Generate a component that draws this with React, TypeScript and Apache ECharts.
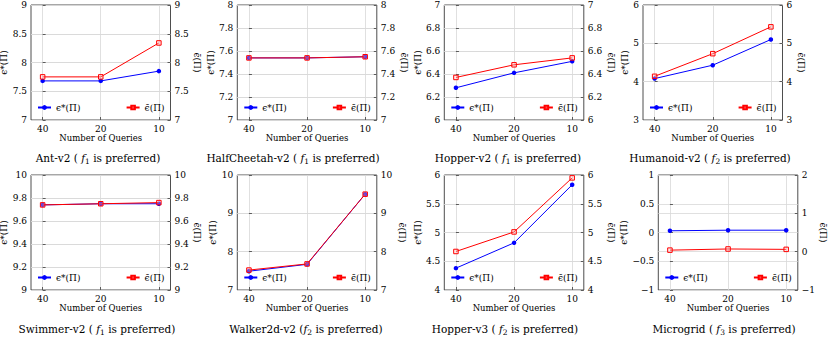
import React, { useEffect, useRef } from "react";
import * as echarts from "echarts";

// ---------- data ----------
const queries = ["40", "20", "10"];
const queryPos = [0, 1, 2];

const BEST = "ϵ*(Π)";
const AVG = "ϵ̄(Π)";

const antBest = [7.68, 7.68, 7.85];
const antAvg = [7.75, 7.75, 8.34];
const halfCheetahBest = [7.54, 7.54, 7.55];
const halfCheetahAvg = [7.54, 7.54, 7.55];
const hopperV2Best = [6.28, 6.41, 6.51];
const hopperV2Avg = [6.37, 6.48, 6.54];
const humanoidBest = [4.08, 4.43, 5.1];
const humanoidAvg = [4.14, 4.73, 5.43];
const swimmerBest = [9.74, 9.75, 9.75];
const swimmerAvg = [9.74, 9.75, 9.76];
const walkerBest = [7.49, 7.67, 9.5];
const walkerAvg = [7.52, 7.68, 9.5];
const hopperV3Best = [4.38, 4.82, 5.83];
const hopperV3Avg = [4.67, 5.01, 5.95];
const microgridBest = [0.03, 0.04, 0.04];
const microgridAvg = [0.04, 0.07, 0.06];

const envNames = [
  "Ant-v2 (",
  "HalfCheetah-v2 (",
  "Hopper-v2 (",
  "Humanoid-v2 (",
  "Swimmer-v2 (",
  "Walker2d-v2 (",
  "Hopper-v3 (",
  "Microgrid (",
];
const preferredObjective = ["1", "1", "1", "2", "1", "2", "2", "3"];
const spaceBeforeF = [true, true, true, true, true, false, true, true];

const bestSeries = [antBest, halfCheetahBest, hopperV2Best, humanoidBest, swimmerBest, walkerBest, hopperV3Best, microgridBest];
const avgSeries = [antAvg, halfCheetahAvg, hopperV2Avg, humanoidAvg, swimmerAvg, walkerAvg, hopperV3Avg, microgridAvg];

// [min, max, interval]
const leftAxisRange = [[7, 9, 0.5], [7, 8, 0.2], [6, 7, 0.2], [3, 6, 1], [9, 10, 0.2], [7, 10, 1], [4, 6, 0.5], [-1, 1, 0.5]];
const rightAxisRange = [[7, 9, 0.5], [7, 8, 0.2], [6, 7, 0.2], [3, 6, 1], [9, 10, 0.2], [7, 10, 1], [4, 6, 0.5], [-1, 2, 1]];

// ---------- layout ----------
const W = 830;
const H = 341;
const plotLeft = [31, 237.3, 444.3, 643, 31, 237.3, 444.3, 658.3];
const plotTop = [5, 5, 5, 5, 175, 175, 175, 175];
const plotW = 139.5;
const plotH = 115;
const leftNameGap = [20, 20, 17.5, 14, 20, 20, 17.5, 29];
const rightNameGap = [20, 18, 20, 13, 21, 21, 20, 14];
const captionX = [98, 293, 508, 710, 97, 306, 505, 724];
const captionY = [158, 158, 158, 158, 329, 329, 329, 329];

const FONT = "DejaVu Serif";
const BLUE = "#0000ff";
const RED = "#ff0000";
const GRIDC = "#d8d8d8";
const FRAME = "#3a3a3a";
const TICK_FS = 9;
const NAME_FS = 8.5;
const CAP_FS = 10.5;

function fmt(v: number) {
  const r = Math.round(v * 100) / 100;
  return r < 0 ? "−" + String(-r) : String(r);
}

function buildOption() {
  const grid: any[] = [];
  const xAxis: any[] = [];
  const yAxis: any[] = [];
  const series: any[] = [];
  const legend: any[] = [];
  const graphic: any[] = [];

  for (let i = 0; i < 8; i++) {
    grid.push({
      left: plotLeft[i],
      top: plotTop[i],
      width: plotW,
      height: plotH,
      show: true,
      borderColor: FRAME,
      borderWidth: 0.9,
      backgroundColor: "transparent",
      containLabel: false,
      outerBoundsMode: "none",
    });
    xAxis.push({
      type: "value",
      gridIndex: i,
      min: -0.2,
      max: 2.2,
      axisLine: { show: false },
      axisTick: { show: true, inside: true, length: 3, customValues: queryPos, lineStyle: { color: FRAME, width: 0.8 } },
      axisLabel: {
        customValues: queryPos,
        formatter: (v: number) => queries[Math.round(v)],
        fontFamily: FONT,
        fontSize: TICK_FS,
        color: "#000",
        margin: 4,
      },
      splitLine: { show: true, lineStyle: { color: GRIDC, width: 0.8 } },
      name: "Number of Queries",
      nameLocation: "middle",
      nameGap: 13.5,
      nameTextStyle: { fontFamily: FONT, fontSize: NAME_FS, color: "#000" },
    });
    const [lmin, lmax, lint] = leftAxisRange[i];
    const [rmin, rmax, rint] = rightAxisRange[i];
    yAxis.push({
      type: "value",
      gridIndex: i,
      position: "left",
      min: lmin,
      max: lmax,
      interval: lint,
      axisLine: { show: false },
      axisTick: { show: true, inside: true, length: 3, lineStyle: { color: FRAME, width: 0.8 } },
      axisLabel: { formatter: fmt, fontFamily: FONT, fontSize: TICK_FS, color: "#000", margin: 4 },
      splitLine: { show: true, lineStyle: { color: GRIDC, width: 0.8 } },
      name: BEST,
      nameLocation: "middle",
      nameRotate: 90,
      nameGap: leftNameGap[i],
      nameTextStyle: { fontFamily: FONT, fontSize: NAME_FS + 0.5, color: "#000" },
    });
    yAxis.push({
      type: "value",
      gridIndex: i,
      position: "right",
      min: rmin,
      max: rmax,
      interval: rint,
      axisLine: { show: false },
      axisTick: { show: true, inside: true, length: 3, lineStyle: { color: FRAME, width: 0.8 } },
      axisLabel: { formatter: fmt, fontFamily: FONT, fontSize: TICK_FS, color: "#000", margin: 4 },
      splitLine: { show: true, lineStyle: { color: GRIDC, width: 0.8 } },
      name: AVG,
      nameLocation: "middle",
      nameRotate: -90,
      nameGap: rightNameGap[i],
      nameTextStyle: { fontFamily: FONT, fontSize: NAME_FS + 0.5, color: "#000" },
    });
    series.push({
      type: "line",
      name: BEST,
      xAxisIndex: i,
      yAxisIndex: 2 * i,
      data: bestSeries[i].map((v, j) => [queryPos[j], v]),
      symbol: "circle",
      symbolSize: 4.5,
      lineStyle: { color: BLUE, width: 1 },
      itemStyle: { color: BLUE },
      z: 3,
    });
    series.push({
      type: "line",
      name: AVG,
      xAxisIndex: i,
      yAxisIndex: 2 * i + 1,
      data: avgSeries[i].map((v, j) => [queryPos[j], v]),
      symbol: "rect",
      symbolSize: 4.5,
      lineStyle: { color: RED, width: 1 },
      itemStyle: { color: "rgba(255,200,200,0.35)", borderColor: RED, borderWidth: 1 },
      z: 4,
    });
    const legendTop = plotTop[i] + plotH - 17;
    const common = {
      orient: "horizontal",
      padding: 0,
      itemWidth: 13,
      selectedMode: false,
      textStyle: { fontFamily: FONT, fontSize: NAME_FS + 0.5, color: "#000" },
    };
    legend.push({ ...common, itemHeight: 6, data: [BEST], left: plotLeft[i] + 6, top: legendTop });
    legend.push({ ...common, itemHeight: 4.5, data: [AVG], right: W - (plotLeft[i] + plotW - 6), top: legendTop });

    const cap =
      envNames[i] + (spaceBeforeF[i] ? " " : "") + "{it|f}{sub|" + preferredObjective[i] + "} is preferred)";
    graphic.push({
      type: "text",
      x: captionX[i],
      y: captionY[i],
      style: {
        text: cap,
        fontFamily: FONT,
        fontSize: CAP_FS,
        lineHeight: 14,
        fill: "#000",
        align: "center",
        verticalAlign: "middle",
        rich: {
          it: { fontFamily: FONT, fontSize: CAP_FS, fontStyle: "italic", lineHeight: 14 },
          sub: { fontFamily: FONT, fontSize: 7.5, lineHeight: 9, verticalAlign: "bottom" },
        },
      },
    });
  }

  return {
    animation: false,
    backgroundColor: "#fff",
    textStyle: { fontFamily: FONT },
    grid,
    xAxis,
    yAxis,
    series,
    legend,
    graphic,
  };
}

export default function App() {
  const ref = useRef<HTMLDivElement>(null);
  useEffect(() => {
    if (!ref.current) return;
    const chart = echarts.init(ref.current, null, { renderer: "svg" });
    chart.setOption(buildOption() as any);
    return () => chart.dispose();
  }, []);
  return (
    <div
      ref={ref}
      style={{ position: "fixed", left: 0, top: 0, width: W, height: H, background: "#fff" }}
    />
  );
}
